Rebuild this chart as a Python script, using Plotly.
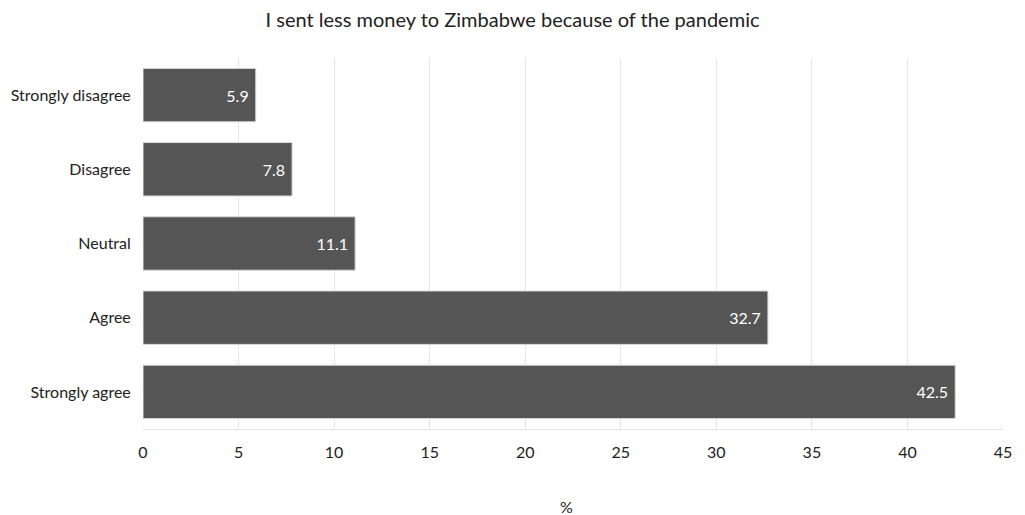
import plotly.graph_objects as go

categories = ["Strongly disagree", "Disagree", "Neutral", "Agree", "Strongly agree"]
values = [5.9, 7.8, 11.1, 32.7, 42.5]
tick_vals = [0, 5, 10, 15, 20, 25, 30, 35, 40, 45]

FONT = "Lato, 'Open Sans', sans-serif"

fig = go.Figure(go.Bar(
    y=categories,
    x=values,
    orientation="h",
    marker=dict(color="#555555", line=dict(color="#d9d9d9", width=1)),
    text=[f"{v:.1f} " for v in values],
    textposition="inside",
    insidetextanchor="end",
    textfont=dict(color="white", size=16, family=FONT),
    cliponaxis=False,
))

fig.update_layout(
    width=1025, height=515,
    margin=dict(l=143, r=22, t=58, b=86, autoexpand=False),
    paper_bgcolor="white",
    plot_bgcolor="white",
    bargap=0.28,
    showlegend=False,
    font=dict(family=FONT, color="#222222", size=15),
    title=dict(text="I sent less money to Zimbabwe because of the pandemic",
               x=0.5, xanchor="center", y=0.962, yanchor="middle",
               font=dict(size=20, family=FONT, color="#222222")),
    xaxis=dict(
        range=[0, 45], tickvals=tick_vals, ticktext=[str(t) for t in tick_vals],
        showgrid=True, gridcolor="#e6e6e6", gridwidth=1,
        zeroline=False, showline=True, linecolor="#e6e6e6", linewidth=1,
        ticks="outside", ticklen=9, tickcolor="rgba(0,0,0,0)",
        tickfont=dict(size=16, family=FONT, color="#222222"),
        automargin=False,
    ),
    yaxis=dict(
        categoryorder="array", categoryarray=categories, autorange="reversed",
        showgrid=False, zeroline=False,
        ticks="outside", ticklen=8, tickcolor="rgba(0,0,0,0)",
        tickfont=dict(size=16, family=FONT, color="#222222"),
        automargin=False,
    ),
    annotations=[dict(
        text="%", xref="paper", yref="paper", x=0.492, y=-0.21,
        xanchor="center", yanchor="middle", showarrow=False,
        font=dict(size=16, family=FONT, color="#222222"),
    )],
)

fig.write_html("out.html")
